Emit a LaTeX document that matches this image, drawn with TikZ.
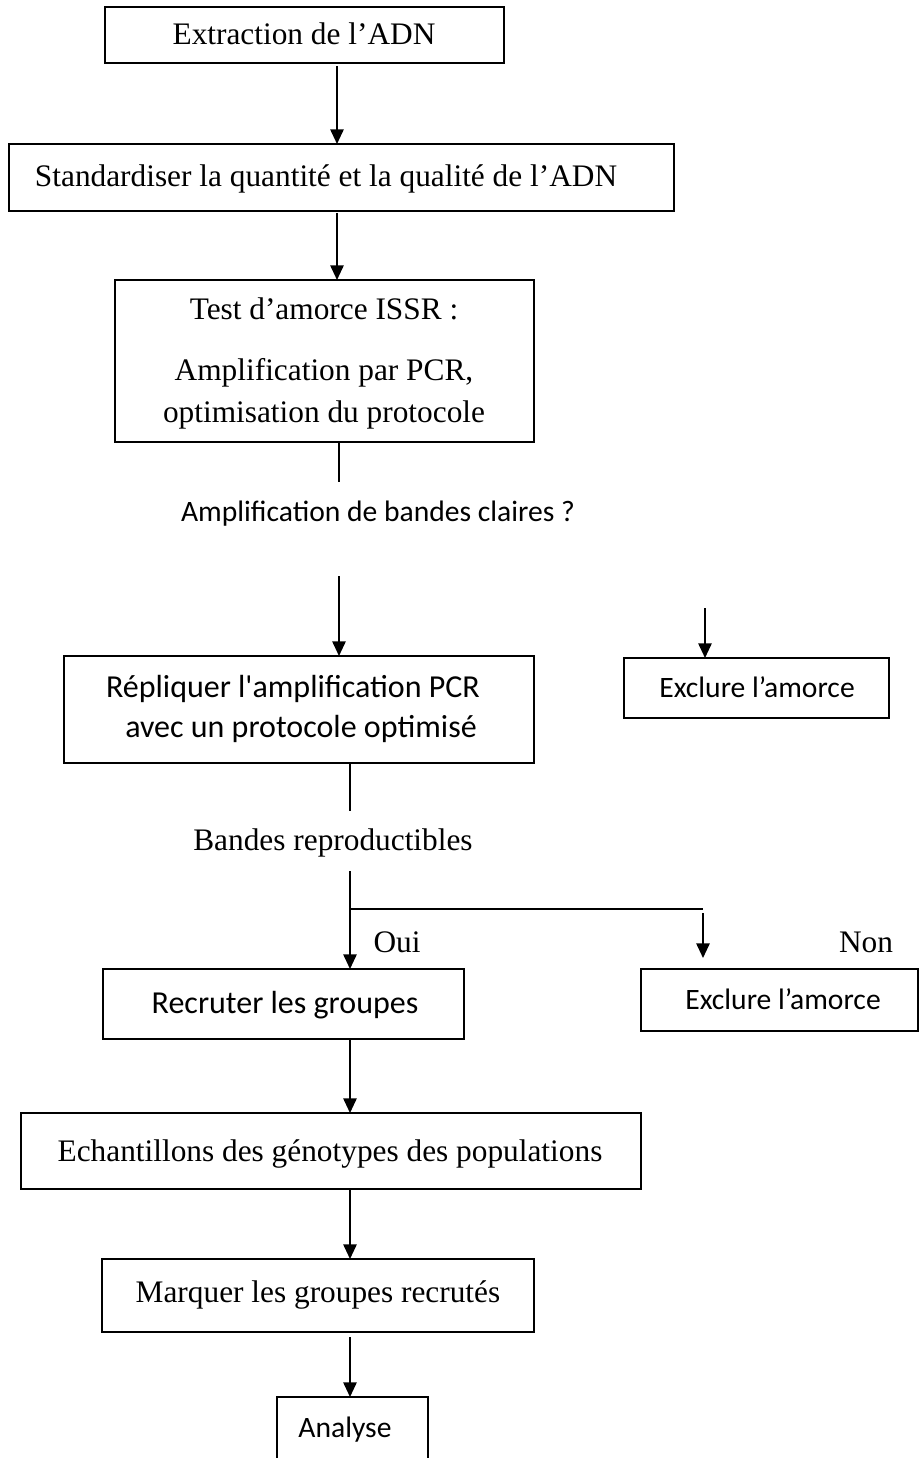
\documentclass[tikz,border=0pt]{standalone}
\usepackage{fontspec}
\setmainfont{Liberation Serif}
\newfontfamily\sansfont{Carlito}
\usetikzlibrary{calc,arrows.meta}

\begin{document}
\begin{tikzpicture}[x=0.75pt,y=-0.75pt,
  boite/.style={line width=1.4pt},
  trait/.style={line width=1.3pt},
  fleche/.style={line width=1.3pt,-{Triangle[length=11pt,width=10pt]}},
  serif/.style={font=\fontsize{23.5}{28}\selectfont,anchor=base,inner sep=0pt},
  sans/.style={font=\sansfont\fontsize{22.2}{26}\selectfont,anchor=base,inner sep=0pt},
  sansgros/.style={sans,font=\sansfont\fontsize{24}{28}\selectfont}]
  \useasboundingbox (0,0) rectangle (923,1458);

  %% Building the boxes of the flowchart
  \foreach \nom/\xa/\ya/\xb/\yb in {B1/105/7/504/63, B2/9/144/674/211,
    B3/115/280/534/442, B4/64/656/534/763, B5/624/658/889/718,
    B6/103/969/464/1039, B7/641/969/918/1031, B8/21/1113/641/1189,
    B9/102/1259/534/1332}
  {
    \coordinate (BL\nom) at (\xa,\yb);
    \coordinate (UR\nom) at (\xb,\ya);
    \draw[boite] (BL\nom) rectangle (UR\nom);
  }
  %% last box runs off the page
  \coordinate (ULB10) at (277,1397);
  \coordinate (URB10) at (428,1397);
  \draw[boite] (ULB10 |- 0,1470) -- (ULB10) -- (URB10) -- (URB10 |- 0,1470);

  %% Texts
  \node[serif] (T1) at (304,45) {Extraction de l’ADN};
  \node[serif] (T2) at (326,187) {Standardiser la quantité et la qualité de l’ADN};
  \node[serif] (T3a) at (324,320) {Test d’amorce ISSR :};
  \node[serif] (T3b) at (324,381) {Amplification par PCR,};
  \node[serif] (T3c) at (324,422) {optimisation du protocole};
  \node[sans] (Q1) at (378,521) {Amplification de bandes claires ?};
  \node[sansgros] (T4a) at (293,697) {Répliquer l'amplification PCR};
  \node[sansgros] (T4b) at (301,737) {avec un protocole optimisé};
  \node[sans] (T5) at (757,697) {Exclure l’amorce};
  \node[serif] (Q2) at (333,850) {Bandes reproductibles};
  \node[serif] (OUI) at (397,952) {Oui};
  \node[serif] (NON) at (866,952) {Non};
  \node[sansgros] (T6) at (285,1013) {Recruter les groupes};
  \node[sans] (T7) at (783,1009) {Exclure l’amorce};
  \node[serif] (T8) at (330,1161) {Echantillons des génotypes des populations};
  \node[serif] (T9) at (318,1302) {Marquer les groupes recrutés};
  \node[sans] (T10) at (345,1437) {Analyse};

  %% Connectors
  \coordinate (C1) at (337,66);
  \coordinate (C2) at (337,213);
  \coordinate (C3) at (339,442);
  \coordinate (C4) at (339,576);
  \coordinate (C5) at (705,608);
  \coordinate (C6) at (350,763);
  \coordinate (C7) at (350,871);
  \coordinate (C8) at (350,909);
  \coordinate (C9) at (703,909);
  \coordinate (C10) at (703,958);
  \coordinate (C11) at (350,1039);
  \coordinate (C12) at (350,1189);
  \coordinate (C13) at (350,1337);

  \draw[fleche] (C1) -- (C1 |- URB2);
  \draw[fleche] (C2) -- (C2 |- URB3);
  \draw[trait]  (C3) -- ($(C3)+(0,40)$);
  \draw[fleche] (C4) -- (C4 |- URB4);
  \draw[fleche] (C5) -- (C5 |- URB5);
  \draw[trait]  (C6) -- ($(C6)+(0,48)$);
  \draw[fleche] (C7) -- (C7 |- URB6);
  \draw[trait]  (C8) -- (C9);
  \draw[fleche] ($(C9)+(0,4)$) -- (C10);
  \draw[fleche] (C11) -- (C11 |- URB8);
  \draw[fleche] (C12) -- (C12 |- URB9);
  \draw[fleche] (C13) -- (C13 |- URB10);
\end{tikzpicture}
\end{document}
